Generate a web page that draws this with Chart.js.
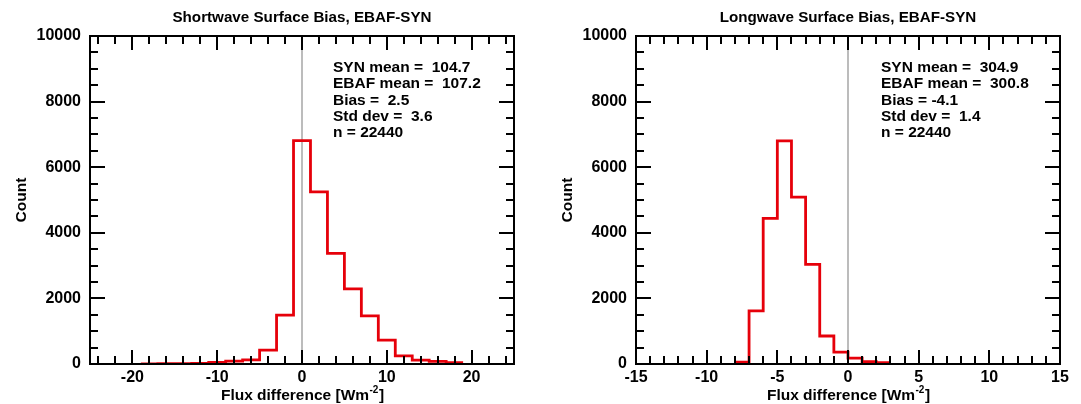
<!DOCTYPE html>
<html><head><meta charset="utf-8">
<script src="https://cdn.jsdelivr.net/npm/chart.js@4.4.1/dist/chart.umd.min.js"></script>
<style>
html,body{margin:0;padding:0;background:#fff;}
#wrap{position:relative;width:1081px;height:404px;overflow:hidden;background:#fff;}
.box{position:absolute;top:0;width:540px;height:404px;}
</style></head><body>
<div id="wrap">
<div class="box" style="left:0"><canvas id="c1" width="540" height="404"></canvas></div>
<div class="box" style="left:546px"><canvas id="c2" width="540" height="404"></canvas></div>
</div>
<script>
// ---- Shortwave panel data ----
const swTitle = "Shortwave Surface Bias, EBAF-SYN";
const swBinWidth = 2;
const swBinCenters = [-18,-16,-14,-12,-10,-8,-6,-4,-2,0,2,4,6,8,10,12,14,16,18];
const swCounts     = [5,8,10,20,45,90,125,425,1490,6810,5250,3375,2290,1470,730,250,120,80,40];
const swXRange = [-25, 25];
const swXMajorTicks = [-20,-10,0,10,20];
const swXMinorTicks = [-24,-22,-18,-16,-14,-12,-8,-6,-4,-2,2,4,6,8,12,14,16,18,22,24];
const swStats = ["SYN mean =  104.7","EBAF mean =  107.2","Bias =  2.5","Std dev =  3.6","n = 22440"];

// ---- Longwave panel data ----
const lwTitle = "Longwave Surface Bias, EBAF-SYN";
const lwBinWidth = 1;
const lwBinCenters = [-7.5,-6.5,-5.5,-4.5,-3.5,-2.5,-1.5,-0.5,0.5,1.5,2.5];
const lwCounts     = [60,1620,4440,6800,5090,3040,854,365,178,70,40];
const lwXRange = [-15, 15];
const lwXMajorTicks = [-15,-10,-5,0,5,10,15];
const lwXMinorTicks = [-14,-13,-12,-11,-9,-8,-7,-6,-4,-3,-2,-1,1,2,3,4,6,7,8,9,11,12,13,14];
const lwStats = ["SYN mean =  304.9","EBAF mean =  300.8","Bias = -4.1","Std dev =  1.4","n = 22440"];

// ---- shared y axis ----
const yRange = [0, 10000];
const yMajorTicks = [0,2000,4000,6000,8000,10000];
const yMinorTicks = [500,1000,1500,2500,3000,3500,4500,5000,5500,6500,7000,7500,8500,9000,9500];
const xAxisTitle = ["Flux difference [Wm", "-2", "]"];
const yAxisTitle = "Count";

const FONT = "'Liberation Sans', Arial, Helvetica, sans-serif";
Chart.defaults.font.family = FONT;
Chart.defaults.color = '#000';

function histPoints(centers, counts, w) {
  const pts = [{x: centers[0] - w/2, y: counts[0]}];
  centers.forEach((c, i) => pts.push({x: c, y: counts[i]}));
  pts.push({x: centers[centers.length-1] + w/2, y: counts[counts.length-1]});
  return pts;
}

function framePlugin(cfg) {
  return {
    id: 'frame',
    afterDraw(chart) {
      const ctx = chart.ctx, a = chart.chartArea;
      const xs = chart.scales.x, ys = chart.scales.y;
      ctx.save();
      ctx.strokeStyle = '#000';
      ctx.lineWidth = 2;
      ctx.lineCap = 'butt';
      const xt = (vals, len) => vals.forEach(v => {
        const px = Math.round(xs.getPixelForValue(v));
        ctx.beginPath(); ctx.moveTo(px, a.bottom); ctx.lineTo(px, a.bottom - len); ctx.stroke();
        ctx.beginPath(); ctx.moveTo(px, a.top); ctx.lineTo(px, a.top + len); ctx.stroke();
      });
      const yt = (vals, len) => vals.forEach(v => {
        const py = Math.round(ys.getPixelForValue(v));
        ctx.beginPath(); ctx.moveTo(a.left, py); ctx.lineTo(a.left + len, py); ctx.stroke();
        ctx.beginPath(); ctx.moveTo(a.right, py); ctx.lineTo(a.right - len, py); ctx.stroke();
      });
      xt(cfg.xMajor, 14); xt(cfg.xMinor, 8);
      yt(yMajorTicks, 15); yt(yMinorTicks, 8);
      ctx.strokeRect(a.left, a.top, a.right - a.left, a.bottom - a.top);

      ctx.fillStyle = '#000';
      ctx.textBaseline = 'middle';
      ctx.textAlign = 'center';
      ctx.font = 'bold 15.2px ' + FONT;
      const cx = (a.left + a.right) / 2;
      ctx.fillText(cfg.title, cx, 17.5);

      const big = 'bold 15.5px ' + FONT, small = 'bold 10px ' + FONT;
      ctx.font = big; const w1 = ctx.measureText(xAxisTitle[0]).width; const w3 = ctx.measureText(xAxisTitle[2]).width;
      ctx.font = small; const w2 = ctx.measureText(xAxisTitle[1]).width;
      let x0 = cx - (w1 + w2 + w3) / 2;
      ctx.textAlign = 'left';
      ctx.font = big; ctx.fillText(xAxisTitle[0], x0, 396);
      ctx.font = small; ctx.fillText(xAxisTitle[1], x0 + w1 + 0.5, 390);
      ctx.font = big; ctx.fillText(xAxisTitle[2], x0 + w1 + w2 + 1, 396);

      ctx.save();
      ctx.translate(22, (a.top + a.bottom) / 2);
      ctx.rotate(-Math.PI / 2);
      ctx.textAlign = 'center';
      ctx.font = big;
      ctx.fillText(yAxisTitle, 0, 0);
      ctx.restore();

      ctx.font = 'bold 15.5px ' + FONT;
      ctx.textAlign = 'left';
      cfg.stats.forEach((s, i) => ctx.fillText(s, a.left + cfg.statsDx, 67.5 + i * 16.4));
      ctx.restore();
    }
  };
}

function makeChart(id, cfg) {
  return new Chart(document.getElementById(id), {
    type: 'line',
    data: {
      datasets: [
        {
          data: histPoints(cfg.centers, cfg.counts, cfg.w),
          stepped: 'middle',
          borderColor: '#e6000a',
          borderWidth: 2.8,
          pointRadius: 0,
          fill: false,
          order: 1
        },
        {
          data: [{x: 0, y: yRange[0]}, {x: 0, y: yRange[1]}],
          borderColor: '#a6a6a6',
          borderWidth: 1.5,
          pointRadius: 0,
          fill: false,
          order: 2
        }
      ]
    },
    options: {
      responsive: false,
      animation: false,
      devicePixelRatio: 1,
      layout: {padding: {left: 0, right: 26, top: 36, bottom: 0}},
      plugins: {legend: {display: false}, tooltip: {enabled: false}, title: {display: false}},
      scales: {
        x: {
          type: 'linear', min: cfg.xRange[0], max: cfg.xRange[1],
          grid: {display: false, drawTicks: false},
          border: {display: false},
          ticks: {font: {size: 16, weight: 'bold'}, color: '#000', padding: 4, maxRotation: 0, autoSkip: false,
                  callback: v => String(v)},
          afterBuildTicks: s => { s.ticks = cfg.xMajor.map(v => ({value: v})); },
          afterFit: s => { s.height = 40; }
        },
        y: {
          type: 'linear', min: yRange[0], max: yRange[1],
          grid: {display: false, drawTicks: false},
          border: {display: false},
          ticks: {font: {size: 16, weight: 'bold'}, color: '#000', padding: 9, autoSkip: false,
                  callback: v => String(v)},
          afterBuildTicks: s => { s.ticks = yMajorTicks.map(v => ({value: v})); },
          afterFit: s => { s.width = 90; }
        }
      }
    },
    plugins: [framePlugin(cfg)]
  });
}

makeChart('c1', {title: swTitle, centers: swBinCenters, counts: swCounts, w: swBinWidth,
  xRange: swXRange, xMajor: swXMajorTicks, xMinor: swXMinorTicks, stats: swStats, statsDx: 243});
makeChart('c2', {title: lwTitle, centers: lwBinCenters, counts: lwCounts, w: lwBinWidth,
  xRange: lwXRange, xMajor: lwXMajorTicks, xMinor: lwXMinorTicks, stats: lwStats, statsDx: 245});
</script>
</body></html>
